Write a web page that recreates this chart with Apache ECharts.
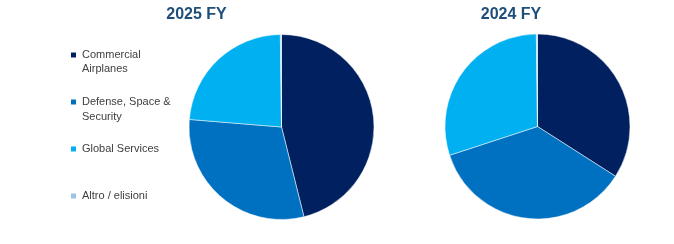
<!DOCTYPE html>
<html>
<head>
<meta charset="utf-8">
<script src="https://cdn.jsdelivr.net/npm/echarts@6/dist/echarts.min.js"></script>
<style>
html,body{margin:0;padding:0;background:#fff;}
#c{width:674px;height:244px;}
</style>
</head>
<body>
<div id="c"></div>
<script>
// ---- data ----
const categories = ['Commercial Airplanes', 'Defense, Space & Security', 'Global Services', 'Altro / elisioni'];
const legendLabels = [['Commercial', 'Airplanes'], ['Defense, Space &', 'Security'], ['Global Services'], ['Altro / elisioni']];
const pieTitles = ['2025 FY', '2024 FY'];
const values2025 = [46.1, 30.2, 23.5, 0.2];
const values2024 = [34.0, 35.9, 29.8, 0.2];
const colors = ['#002060', '#0070C0', '#00B0F0', '#9DC3E6'];

const chart = echarts.init(document.getElementById('c'), null, {renderer: 'canvas'});

const FONT = '"Liberation Sans", Arial, sans-serif';
// icon centres wanted at 55, 102, 149, 196
const legendIconY = [55, 102, 149, 196];
const legendLineH = [14, 15, 14, 14];

const legends = categories.map((name, i) => {
  const lines = legendLabels[i];
  const lh = legendLineH[i];
  const multi = lines.length > 1;
  // leading empty line keeps first text line centred on the icon
  const txt = multi ? '\n' + lines.join('\n') : lines[0];
  const half = multi ? lh * 1.5 : lh / 2;
  return {
    orient: 'vertical',
    left: 69,
    top: legendIconY[i] - half,
    padding: 0,
    itemWidth: 7,
    itemHeight: 7,
    icon: 'rect',
    selectedMode: false,
    data: [name],
    formatter: () => txt,
    textStyle: {
      fontFamily: FONT,
      fontSize: 11,
      color: '#404040',
      lineHeight: lh
    }
  };
});

function makeData(vals) {
  return categories.map((n, i) => ({name: n, value: vals[i], itemStyle: {color: colors[i]}}));
}

const option = {
  animation: false,
  backgroundColor: '#fff',
  title: [
    {text: pieTitles[0], left: 191.5, top: 2, textAlign: 'center',
     textStyle: {fontFamily: FONT, fontSize: 16, fontWeight: 'bold', color: '#1F4E79'}},
    {text: pieTitles[1], left: 506, top: 2, textAlign: 'center',
     textStyle: {fontFamily: FONT, fontSize: 16, fontWeight: 'bold', color: '#1F4E79'}}
  ],
  legend: legends,
  series: [
    {
      type: 'pie', name: pieTitles[0],
      center: [281.5, 127], radius: 92.5,
      startAngle: 90, clockwise: true,
      label: {show: false}, labelLine: {show: false},
      emphasis: {disabled: true},
      itemStyle: {borderColor: '#fff', borderWidth: 0.5},
      data: makeData(values2025)
    },
    {
      type: 'pie', name: pieTitles[1],
      center: [537.5, 126.5], radius: 92.5,
      startAngle: 90, clockwise: true,
      label: {show: false}, labelLine: {show: false},
      emphasis: {disabled: true},
      itemStyle: {borderColor: '#fff', borderWidth: 0.5},
      data: makeData(values2024)
    }
  ]
};
chart.setOption(option);
</script>
</body>
</html>
